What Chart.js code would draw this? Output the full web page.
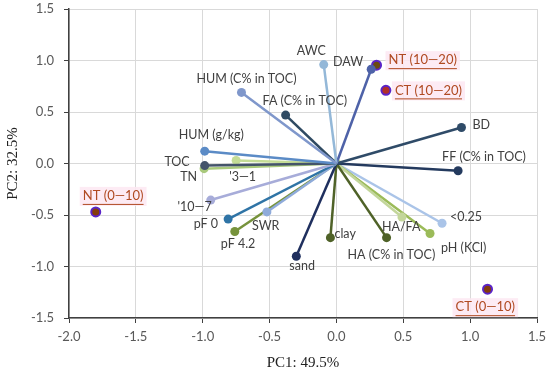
<!DOCTYPE html>
<html>
<head>
<meta charset="utf-8">
<script src="https://cdn.jsdelivr.net/npm/chart.js@4.4.0/dist/chart.umd.min.js"></script>
<style>
  html, body { margin: 0; padding: 0; background: #fff; }
  #wrap { width: 550px; height: 376px; }
</style>
</head>
<body>
<div id="wrap"><canvas id="pca"></canvas></div>
<script>
// --- loadings (vectors) ---
const variables = ["HUM (C% in TOC)", "HUM (g/kg)", "TOC", "TN", "'3\u20141", "AWC", "DAW",
  "FA (C% in TOC)", "BD", "FF (C% in TOC)", "'10\u20147", "pF 0", "SWR", "pF 4.2",
  "sand", "clay", "HA (C% in TOC)", "HA/FA", "pH (KCl)", "<0.25"];
const varPC1 = [-0.71, -0.985, -0.985, -0.99, -0.75, -0.095, 0.26,
  -0.38, 0.935, 0.91, -0.94, -0.81, -0.52, -0.76,
  -0.30, -0.045, 0.375, 0.49, 0.70, 0.79];
const varPC2 = [0.69, 0.12, -0.02, -0.05, 0.03, 0.96, 0.915,
  0.47, 0.35, -0.07, -0.355, -0.54, -0.47, -0.66,
  -0.90, -0.72, -0.72, -0.52, -0.68, -0.58];

// --- scores (treatments) ---
const samples = ["NT (10\u201420)", "CT (10\u201420)", "NT (0\u201410)", "CT (0\u201410)"];
const samplePC1 = [0.30, 0.37, -1.80, 1.13];
const samplePC2 = [0.955, 0.71, -0.47, -1.22];

// --- axis ticks ---
const xTicks = [-2.0, -1.5, -1.0, -0.5, 0.0, 0.5, 1.0, 1.5];
const yTicks = [-1.5, -1.0, -0.5, 0.0, 0.5, 1.0, 1.5];

// styling, one per variable
const varColors = ["#7f97cb", "#5b8bc6", "#44546a", "#a9c97c", "#c4dc96", "#94b8d8", "#4e62a8",
  "#2f4a62", "#2f4b68", "#243a5e", "#a7acd9", "#2f74a6", "#8fabda", "#77933c",
  "#1f2f5e", "#4f6228", "#4f6228", "#c3d69b", "#9bbb59", "#aac4e8"];
const sampleFill = ["#6b4a10", "#b0302a", "#843c0c", "#843c0c"];

// label placement: [dx, dy, align] from the marker, in pixels
const varLabelPos = [[-45, -13, "left"], [-26, -16, "left"], [-15, -4, "right"], [-7, 8, "right"],
  [-7, 17, "left"], [-27, -14, "left"], [-8, -7, "right"], [-23, -14, "left"], [11, -2, "left"],
  [-16, -14, "left"], [1, 7, "right"], [-10, 5, "right"], [-15, 14, "left"], [-14, 12, "left"],
  [-7, 10, "left"], [4, -4, "left"], [-39, 17, "left"], [-20, 10, "left"], [11, 14, "left"],
  [8, -6, "left"]];
const sampleLabelPos = [[12, -5], [9, 0], [-13, -16], [-32, 18]];

const datasets = [];
variables.forEach((name, i) => {
  datasets.push({
    label: name,
    data: [{ x: 0, y: 0 }, { x: varPC1[i], y: varPC2[i] }],
    showLine: true,
    borderColor: varColors[i],
    backgroundColor: varColors[i],
    borderWidth: 2.5,
    pointRadius: [0, 4.5],
    pointBorderWidth: 0
  });
});
// little dot at the origin
datasets.push({
  label: "origin",
  data: [{ x: 0, y: 0 }],
  backgroundColor: "#b9d48c",
  pointRadius: 5,
  pointBorderWidth: 0
});
datasets.push({
  label: "scores",
  data: samples.map((s, i) => ({ x: samplePC1[i], y: samplePC2[i] })),
  backgroundColor: sampleFill,
  borderColor: "#5a24c8",
  borderWidth: 2,
  pointRadius: 4.5
});

const labelPlugin = {
  id: "pcaLabels",
  afterDatasetsDraw(chart) {
    const ctx = chart.ctx;
    const xs = chart.scales.x, ys = chart.scales.y;
    ctx.save();
    ctx.textBaseline = "middle";
    ctx.font = "12.5px Lato";
    ctx.fillStyle = "#404040";
    variables.forEach((name, i) => {
      const p = varLabelPos[i];
      ctx.textAlign = p[2];
      ctx.fillText(name, xs.getPixelForValue(varPC1[i]) + p[0], ys.getPixelForValue(varPC2[i]) + p[1]);
    });
    ctx.textAlign = "left";
    ctx.font = "13px Lato";
    samples.forEach((name, i) => {
      const p = sampleLabelPos[i];
      const tx = xs.getPixelForValue(samplePC1[i]) + p[0];
      const ty = ys.getPixelForValue(samplePC2[i]) + p[1];
      const w = ctx.measureText(name).width;
      ctx.fillStyle = "rgba(253, 232, 242, 0.85)";
      ctx.fillRect(tx - 3, ty - 9, w + 6, 19);
      ctx.fillStyle = "#b04a22";
      ctx.fillText(name, tx, ty);
      ctx.fillRect(tx, ty + 8, w, 1);
    });
    ctx.restore();
  }
};

const tickFont = { family: "Lato", size: 13 };

new Chart(document.getElementById("pca"), {
  type: "scatter",
  data: { datasets: datasets },
  options: {
    responsive: true,
    maintainAspectRatio: false,
    animation: false,
    layout: { padding: { left: 0, right: 13, top: 9, bottom: 0 } },
    plugins: { legend: { display: false }, tooltip: { enabled: false } },
    scales: {
      x: {
        type: "linear",
        min: -2, max: 1.5,
        afterBuildTicks: s => { s.ticks = xTicks.map(v => ({ value: v })); },
        afterFit: s => { s.height = 58; s.paddingLeft = 0; s.paddingRight = 0; },
        ticks: { font: tickFont, color: "#595959", padding: 6, callback: v => v.toFixed(1) },
        grid: { color: "#d9d9d9", tickColor: "#404040", tickLength: 5 },
        border: { color: "#404040", width: 1.5 },
        title: { display: true, text: "PC1: 49.5%", color: "#222",
          font: { family: "Liberation Serif", size: 15 }, padding: 4 }
      },
      y: {
        type: "linear",
        min: -1.5, max: 1.5,
        afterBuildTicks: s => { s.ticks = yTicks.map(v => ({ value: v })); },
        afterFit: s => { s.width = 69; s.paddingTop = 0; s.paddingBottom = 0; },
        ticks: { font: tickFont, color: "#595959", padding: 10, callback: v => v.toFixed(1) },
        grid: { color: "#d9d9d9", tickColor: "#404040", tickLength: 5 },
        border: { color: "#404040", width: 1.5 },
        title: { display: true, text: "PC2: 32.5%", color: "#222",
          font: { family: "Liberation Serif", size: 15 }, padding: 4 }
      }
    }
  },
  plugins: [labelPlugin]
});
</script>
</body>
</html>
